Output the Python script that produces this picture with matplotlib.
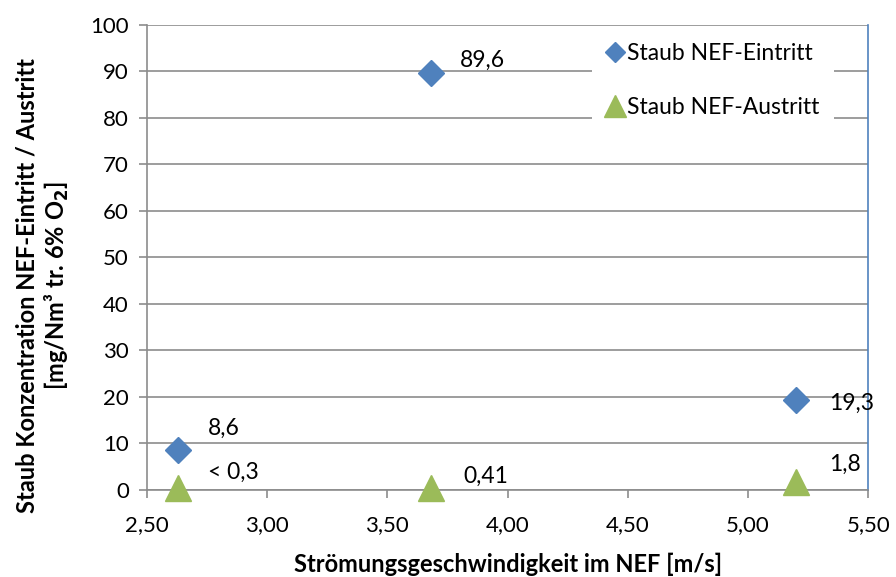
import matplotlib
matplotlib.use("Agg")
import matplotlib.pyplot as plt

plt.rcParams['font.family'] = ['Lato', 'DejaVu Sans']

x_vals = [2.63, 3.68, 5.20]
eintritt = [8.6, 89.6, 19.3]
austritt = [0.3, 0.41, 1.8]
eintritt_labels = ["8,6", "89,6", "19,3"]
austritt_labels = ["< 0,3", "0,41", "1,8"]
x_ticks = [2.5, 3.0, 3.5, 4.0, 4.5, 5.0, 5.5]
x_tick_labels = ["2,50", "3,00", "3,50", "4,00", "4,50", "5,00", "5,50"]
y_ticks = list(range(0, 101, 10))

fig = plt.figure(figsize=(8.96, 5.77), dpi=100)
ax = fig.add_axes([0.164, 0.151, 0.805, 0.806])

ax.set_xlim(2.5, 5.5)
ax.set_ylim(0, 100)
ax.set_xticks(x_ticks)
ax.set_xticklabels(x_tick_labels)
ax.set_yticks(y_ticks)
ax.grid(axis='y', color='#8c8c8c', linewidth=1.2)
ax.set_axisbelow(True)

ax.spines['top'].set_visible(False)
ax.spines['left'].set_color('#8c8c8c')
ax.spines['bottom'].set_color('#8c8c8c')
ax.spines['right'].set_color('#4F81BD')
for s in ['left', 'bottom', 'right']:
    ax.spines[s].set_linewidth(1.2)
ax.tick_params(axis='both', colors='#8c8c8c', labelcolor='black', labelsize=16,
               length=6, width=1.2)
ax.tick_params(axis='y', pad=7)
ax.tick_params(axis='x', pad=12)

ax.plot(x_vals, eintritt, linestyle='none', marker='D', markersize=13,
        color='#4F81BD', label='Staub NEF-Eintritt', zorder=3, clip_on=False)
ax.plot(x_vals, austritt, linestyle='none', marker='^', markersize=19,
        color='#9BBB59', label='Staub NEF-Austritt', zorder=3, clip_on=False)

e_off = [(30, 22), (29, 13), (33, -3)]
a_off = [(30, 16), (33, 12), (33, 17)]
for xv, yv, lab, off in zip(x_vals, eintritt, eintritt_labels, e_off):
    ax.annotate(lab, (xv, yv), xytext=off, textcoords='offset pixels',
                fontsize=16.5, va='center', ha='left')
for xv, yv, lab, off in zip(x_vals, austritt, austritt_labels, a_off):
    ax.annotate(lab, (xv, yv), xytext=off, textcoords='offset pixels',
                fontsize=16.5, va='center', ha='left')

leg = ax.legend(loc='upper left', bbox_to_anchor=(0.617, 0.99), borderaxespad=0,
                frameon=True, fontsize=16.5, handletextpad=0.15, labelspacing=1.45,
                markerscale=0.8, borderpad=0.6, handlelength=0.8)
leg.get_frame().set_edgecolor('none')
leg.get_frame().set_facecolor('white')
leg.get_frame().set_alpha(1.0)

ax.set_xlabel('Strömungsgeschwindigkeit im NEF [m/s]', fontsize=17,
              fontweight='bold')
ax.xaxis.set_label_coords(0.5, -0.135)
ax.set_ylabel('Staub Konzentration NEF-Eintritt / Austritt\n[mg/Nm³ tr. 6% O$_\\mathbf{2}$]',
              fontsize=17, fontweight='bold', linespacing=1.2)
ax.yaxis.set_label_coords(-0.105, 0.44)

fig.savefig('out.png', dpi=100)
